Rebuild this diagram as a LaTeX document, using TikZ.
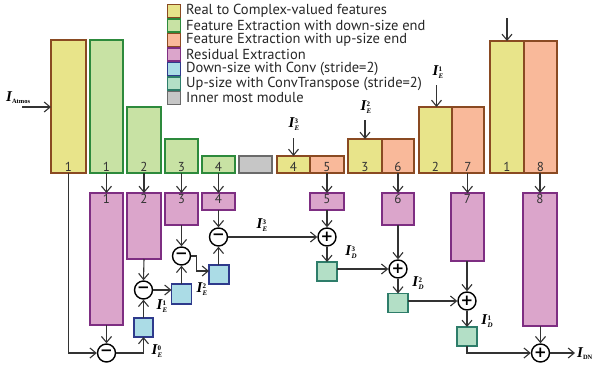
\documentclass[tikz,border=0pt]{standalone}
\usepackage{fontspec}
\setsansfont{PT Sans}
\newfontfamily\tnr{Liberation Serif}
\newfontfamily\djv{DejaVu Sans}
\newfontfamily\legfont{PT Sans}
\usetikzlibrary{arrows.meta,calc}
\definecolor{yfill}{HTML}{E8E48A}
\definecolor{ofill}{HTML}{F9B99A}
\definecolor{gfill}{HTML}{C8E2A4}
\definecolor{pfill}{HTML}{DBA5CB}
\definecolor{bfill}{HTML}{ABDCE6}
\definecolor{tfill}{HTML}{B3DFC6}
\definecolor{grfill}{HTML}{C6C6C6}
\definecolor{brownb}{HTML}{8A4A22}
\definecolor{greenb}{HTML}{2D8A3C}
\definecolor{purpb}{HTML}{7E2E82}
\definecolor{blueb}{HTML}{2E3A8C}
\definecolor{tealb}{HTML}{2E7D6A}
\definecolor{grayb}{HTML}{6A6A6A}
\definecolor{linec}{HTML}{333333}
\newcommand{\Ilab}[2]{{\tnr\fontsize{15}{15}\selectfont\bfseries\itshape I\kern0.3pt\raisebox{-2.5pt}{\fontsize{7}{7}\selectfont\vbox{\offinterlineskip\hbox{\bfseries\upshape #2}\vskip2pt\hbox{\bfseries\itshape #1}}}}}
\tikzset{
  blk/.style={draw, line width=1.3pt, inner sep=0pt, outer sep=0pt},
  ybox/.style={blk, fill=yfill, draw=brownb},
  obox/.style={blk, fill=ofill, draw=brownb},
  gbox/.style={blk, fill=gfill, draw=greenb},
  pbox/.style={blk, fill=pfill, draw=purpb},
  bbox/.style={blk, fill=bfill, draw=blueb},
  tbox/.style={blk, fill=tfill, draw=tealb},
  grbox/.style={blk, fill=grfill, draw=grayb},
  numb/.style={font=\legfont\fontsize{13}{13}\selectfont, text=black!80, inner sep=1pt},
  lbot/.style={label={[numb, anchor=south]south:#1}},
  ltop/.style={label={[numb, anchor=north]north:#1}},
  opc/.style={circle, draw=black, line width=1.4pt, fill=white, minimum size=18pt, inner sep=0pt, font=\djv\bfseries\fontsize{15}{15}\selectfont},
  arr/.style={draw=linec, line width=1.1pt, -{Straight Barb[length=6pt,width=10pt,line width=1.1pt]}},
  ln/.style={draw=linec, line width=1.1pt},
  legtxt/.style={font=\legfont\fontsize{14.5}{14.5}\selectfont, anchor=west, inner sep=0pt, text=black!85},
  lab/.style={inner sep=0pt}
}
\begin{document}
\begin{tikzpicture}[x=1pt,y=-1pt]
\useasboundingbox (0,0) rectangle (595,367);
% legend
\foreach \y/\s/\t [count=\i] in {11/ybox/Real to Complex-valued features,
  25.5/gbox/Feature Extraction with down-size end,
  40/obox/Feature Extraction with up-size end,
  54.5/pbox/Residual Extraction,
  69/bbox/Down-size with Conv (stride=2),
  83.5/tbox/Up-size with ConvTranspose (stride=2),
  98/grbox/Inner most module}{
  \node[\s, minimum width=13pt, minimum height=13pt] (leg\i) at (174,\y) {};
  \node[legtxt] (legt\i) at (186,\y) {\t};
}
% top row
\node[ybox, minimum width=35pt, minimum height=133pt, lbot=1] (ty1) at (68.5,106.5) {};
\node[gbox, minimum width=33pt, minimum height=133pt, lbot=1] (tg1) at (106.5,106.5) {};
\node[gbox, minimum width=34pt, minimum height=66pt, lbot=2] (tg2) at (144,140) {};
\node[gbox, minimum width=33pt, minimum height=34pt, lbot=3] (tg3) at (181.5,156) {};
\node[gbox, minimum width=33pt, minimum height=17pt, lbot=4] (tg4) at (218.5,164.5) {};
\node[grbox, minimum width=33pt, minimum height=17pt] (tgr) at (255.5,164.5) {};
\node[ybox, minimum width=33pt, minimum height=17pt, lbot=4] (ty4) at (293.5,164.5) {};
\node[obox, minimum width=34pt, minimum height=17pt, lbot=5] (to5) at (327,164.5) {};
\node[ybox, minimum width=34pt, minimum height=34pt, lbot=3] (ty3) at (365,156) {};
\node[obox, minimum width=32pt, minimum height=34pt, lbot=6] (to6) at (398,156) {};
\node[ybox, minimum width=33pt, minimum height=66pt, lbot=2] (ty2) at (435.5,140) {};
\node[obox, minimum width=32pt, minimum height=66pt, lbot=7] (to7) at (468,140) {};
\node[ybox, minimum width=34pt, minimum height=132pt, lbot=1] (ty1b) at (507,107) {};
\node[obox, minimum width=33pt, minimum height=132pt, lbot=8] (to8) at (540.5,107) {};
% residual row
\node[pbox, minimum width=33pt, minimum height=132pt, ltop=1] (r1) at (106.5,259) {};
\node[pbox, minimum width=34pt, minimum height=66pt, ltop=2] (r2) at (144,226) {};
\node[pbox, minimum width=33pt, minimum height=32pt, ltop=3] (r3) at (181.5,209) {};
\node[pbox, minimum width=33pt, minimum height=17pt, ltop=4] (r4) at (218.5,201.5) {};
\node[pbox, minimum width=34pt, minimum height=17pt, ltop=5] (r5) at (327,201.5) {};
\node[pbox, minimum width=32pt, minimum height=32pt, ltop=6] (r6) at (398,209) {};
\node[pbox, minimum width=33pt, minimum height=68pt, ltop=7] (r7) at (467.5,227) {};
\node[pbox, minimum width=34pt, minimum height=133pt, ltop=8] (r8) at (540,259.5) {};
% operators
\node[opc] (m0) at (106.5,353) {−};
\node[opc] (m1) at (143.5,290) {−};
\node[opc] (m2) at (181.5,256) {−};
\node[opc] (m3) at (218.5,237) {−};
\node[opc] (p3) at (327,237) {+};
\node[opc] (p2) at (398,269) {+};
\node[opc] (p1) at (467,301) {+};
\node[opc] (p0) at (540.5,353) {+};
% down / up size
\node[bbox, minimum width=19pt, minimum height=19pt] (b0) at (143.5,327.5) {};
\node[bbox, minimum width=20pt, minimum height=20pt] (b1) at (181.5,294) {};
\node[bbox, minimum width=20pt, minimum height=19pt] (b2) at (219,274.5) {};
\node[tbox, minimum width=20pt, minimum height=19pt] (u3) at (327,271.5) {};
\node[tbox, minimum width=20pt, minimum height=19pt] (u2) at (398,303) {};
\node[tbox, minimum width=20pt, minimum height=19pt] (u1) at (467,336.5) {};
% inputs
\coordinate (inA) at (22,107);
\coordinate (in1) at (507,18);
\coordinate (in2) at (436.5,85);
\coordinate (in3) at (365,120);
\coordinate (in4) at (293.5,138);
\coordinate (outD) at (575,353);
\draw[arr] (inA) -- (inA -| ty1.west);
\draw[arr] (in1) -- (in1 |- ty1b.north);
\draw[arr] (in2) -- (in2 |- ty2.north);
\draw[arr] (in3) -- (in3 |- ty3.north);
\draw[arr] (in4) -- (in4 |- ty4.north);
\node[lab, anchor=south west] (lA) at (6,104) {{\tnr\fontsize{15}{15}\selectfont\bfseries\itshape I}\raisebox{-0.5ex}{\tnr\fontsize{6.5}{6.5}\selectfont\bfseries Atmos}};
\node[lab] (l1) at (438,72) {\Ilab{E}{1}};
\node[lab] (l2) at (366,107) {\Ilab{E}{2}};
\node[lab] (l3) at (294,124) {\Ilab{E}{3}};
% top to residual
\draw[arr] (tg1.south) -- (r1.north);
\draw[arr] (tg2.south) -- (r2.north);
\draw[arr] (tg3.south) -- (r3.north);
\draw[arr] (tg4.south) -- (r4.north);
\draw[arr] (to5.south) -- (r5.north);
\draw[arr] (to6.south) -- (r6.north);
\draw[arr] (to7.south -| r7.north) -- (r7.north);
\draw[arr] (to8.south -| r8.north) -- (r8.north);
% encoder side
\draw[arr] (ty1.south) -- (ty1.south |- m0.west) -- (m0.west);
\draw[arr] (r1.south) -- (m0.north);
\draw[arr] (m0.east) -- (m0.east -| b0.south) -- (b0.south);
\draw[arr] (b0.north) -- (m1.south);
\draw[arr] (r2.south) -- (m1.north);
\draw[arr] (m1.east) -- (m1.east -| b1.west);
\draw[arr] (b1.north) -- (m2.south);
\draw[arr] (r3.south) -- (m2.north);
\draw[arr] (m2.east) -- ++(5,0) |- ([yshift=3.5pt]b2.west);
\draw[arr] (b2.north -| m3.south) -- (m3.south);
\draw[arr] (r4.south) -- (m3.north);
\draw[arr] (m3.east) -- (p3.west);
\node[lab] (le0) at (157,351) {\Ilab{E}{0}};
\node[lab] (le1) at (162,306) {\Ilab{E}{1}};
\node[lab] (le2) at (202,289) {\Ilab{E}{2}};
\node[lab] (le3) at (262,225) {\Ilab{E}{3}};
% decoder side
\draw[arr] (r5.south) -- (p3.north);
\draw[arr] (p3.south) -- (u3.north);
\draw[arr] (u3.east |- p2.west) -- (p2.west);
\draw[arr] (r6.south) -- (p2.north);
\draw[arr] (p2.south) -- (u2.north);
\draw[arr] (u2.east |- p1.west) -- (p1.west);
\draw[arr] (r7.south -| p1.north) -- (p1.north);
\draw[arr] (p1.south) -- (u1.north);
\draw[arr] (u1.south) -- (u1.south |- p0.west) -- (p0.west);
\draw[arr] (r8.south -| p0.north) -- (p0.north);
\draw[arr] (p0.east) -- (outD);
\node[lab] (ld3) at (351,252) {\Ilab{D}{3}};
\node[lab] (ld2) at (418,283) {\Ilab{D}{2}};
\node[lab] (ld1) at (487,321) {\Ilab{D}{1}};
\node[lab, anchor=west] (lDN) at (577,354) {{\tnr\fontsize{15}{15}\selectfont\bfseries\itshape I}\raisebox{-0.5ex}{\tnr\fontsize{6.5}{6.5}\selectfont\bfseries DN}};
\end{tikzpicture}
\end{document}
